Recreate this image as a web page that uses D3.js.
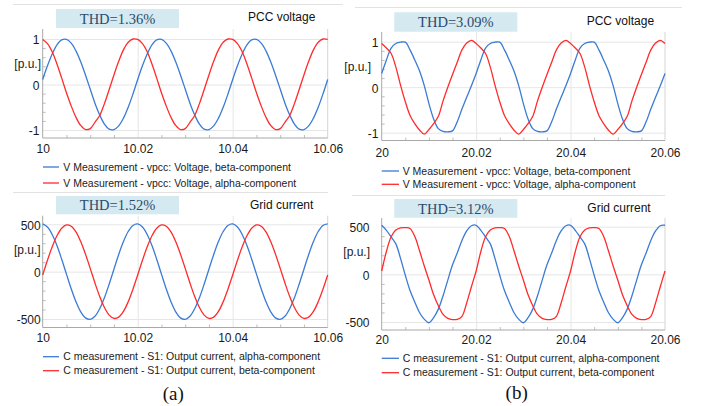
<!DOCTYPE html>
<html><head><meta charset="utf-8">
<script src="https://cdn.jsdelivr.net/npm/d3@7"></script>
<style>body{margin:0;background:#fff}svg{display:block}</style>
</head><body>
<svg id="c" width="709" height="406"></svg>
<script>
// ---------- data ----------
const sampleMs = [0,1,2,3,4,5,6,7,8,9,10,11,12,13,14,15,16,17,18,19,20,21,22,23,24,25,26,27,28,29,30,31,32,33,34,35,36,37,38,39,40,41,42,43,44,45,46,47,48,49,50,51,52,53,54,55,56,57,58,59,60];

const vA_beta = [0.11,0.41,0.67,0.87,0.98,0.99,0.91,0.74,0.50,0.21,-0.10,-0.41,-0.67,-0.87,-0.98,-0.99,-0.91,-0.74,-0.50,-0.21,
                 0.11,0.41,0.67,0.87,0.98,0.99,0.91,0.74,0.50,0.21,-0.10,-0.41,-0.67,-0.87,-0.98,-0.99,-0.91,-0.74,-0.50,-0.21,
                 0.11,0.41,0.67,0.87,0.98,0.99,0.91,0.74,0.50,0.21,-0.10,-0.41,-0.67,-0.87,-0.98,-0.99,-0.91,-0.74,-0.50,-0.21,0.11];
const vA_alpha = [0.99,0.90,0.72,0.45,0.14,-0.18,-0.47,-0.72,-0.90,-0.99,-0.97,-0.83,-0.68,-0.42,-0.11,0.21,0.51,0.76,0.93,1.00,
                  0.99,0.90,0.72,0.45,0.14,-0.18,-0.47,-0.72,-0.90,-0.99,-0.97,-0.83,-0.68,-0.42,-0.11,0.21,0.51,0.76,0.93,1.00,
                  0.99,0.90,0.72,0.45,0.14,-0.18,-0.47,-0.72,-0.90,-0.99,-0.97,-0.83,-0.68,-0.42,-0.11,0.21,0.51,0.76,0.93,1.00,0.99];
const vB_beta = [0.30,0.60,0.86,0.96,0.99,0.99,0.82,0.60,0.36,0.04,-0.36,-0.70,-0.91,-0.97,-0.98,-0.96,-0.76,-0.48,-0.22,0.03,
                 0.30,0.60,0.86,0.96,0.99,0.99,0.82,0.60,0.36,0.04,-0.36,-0.70,-0.91,-0.97,-0.98,-0.96,-0.76,-0.48,-0.22,0.03,
                 0.30,0.60,0.86,0.96,0.99,0.99,0.82,0.60,0.36,0.04,-0.36,-0.70,-0.91,-0.97,-0.98,-0.96,-0.76,-0.48,-0.22,0.03,0.30];
const vB_alpha = [0.96,0.86,0.74,0.44,0.04,-0.32,-0.62,-0.80,-0.94,-1.03,-0.93,-0.80,-0.64,-0.30,0.00,0.28,0.55,0.82,0.97,1.03,
                  0.96,0.86,0.74,0.44,0.04,-0.32,-0.62,-0.80,-0.94,-1.03,-0.93,-0.80,-0.64,-0.30,0.00,0.28,0.55,0.82,0.97,1.03,
                  0.96,0.86,0.74,0.44,0.04,-0.32,-0.62,-0.80,-0.94,-1.03,-0.93,-0.80,-0.64,-0.30,0.00,0.28,0.55,0.82,0.97,1.03,0.96];
const iA_alpha = [504,471,392,275,131,-26,-181,-318,-424,-488,-504,-471,-392,-275,-131,26,181,318,424,488,
                  504,471,392,275,131,-26,-181,-318,-424,-488,-504,-471,-392,-275,-131,26,181,318,424,488,
                  504,471,392,275,131,-26,-181,-318,-424,-488,-504,-471,-392,-275,-131,26,181,318,424,488,504];
const iA_beta = [-35,120,262,379,459,494,480,420,318,185,35,-120,-262,-379,-459,-494,-480,-420,-318,-185,
                 -35,120,262,379,459,494,480,420,318,185,35,-120,-262,-379,-459,-494,-480,-420,-318,-185,
                 -35,120,262,379,459,494,480,420,318,185,35,-120,-262,-379,-459,-494,-480,-420,-318,-185,-35];
const iB_alpha = [515,462,392,320,165,-10,-170,-290,-400,-470,-508,-455,-365,-225,-60,100,225,355,455,510,
                  515,462,392,320,165,-10,-170,-290,-400,-470,-508,-455,-365,-225,-60,100,225,355,455,510,
                  515,462,392,320,165,-10,-170,-290,-400,-470,-508,-455,-365,-225,-60,100,225,355,455,510,515];
const iB_beta = [35,240,395,465,488,490,482,400,250,90,-60,-215,-330,-420,-462,-475,-472,-440,-300,-130,
                 35,240,395,465,488,490,482,400,250,90,-60,-215,-330,-420,-462,-475,-472,-440,-300,-130,
                 35,240,395,465,488,490,482,400,250,90,-60,-215,-330,-420,-462,-475,-472,-440,-300,-130,35];

const voltTicks = [-1, 0, 1];
const voltTickLabels = ["-1", "0", "1"];
const voltMinor = [-0.8,-0.6,-0.4,-0.2,0.2,0.4,0.6,0.8];
const currTicks = [-500, 0, 500];
const currTickLabels = ["-500", "0", "500"];
const currMinor = [-400,-300,-200,-100,100,200,300,400];
const timeOffsets = [0, 0.02, 0.04, 0.06];
const timeMinorOffsets = [0.005,0.01,0.015,0.025,0.03,0.035,0.045,0.05,0.055];
const xTickLabelsA = ["10", "10.02", "10.04", "10.06"];
const xTickLabelsB = ["20", "20.02", "20.04", "20.06"];
const thdLabels = ["THD=1.36%", "THD=3.09%", "THD=1.52%", "THD=3.12%"];
const titles = ["PCC voltage", "PCC voltage", "Grid current", "Grid current"];
const legendVolt = ["V Measurement - vpcc: Voltage, beta-component", "V Measurement - vpcc: Voltage, alpha-component"];
const legendCurr = ["C measurement - S1: Output current, alpha-component", "C measurement - S1: Output current, beta-component"];
const captions = ["(a)", "(b)"];

// ---------- style ----------
const BLUE = "#3a7bd5", RED = "#ff2b2b";
const SANS = "'Liberation Sans', Arial, sans-serif";
const SERIF = "'Liberation Serif', 'Times New Roman', serif";

const svg = d3.select("#c");
svg.append("rect").attr("width",709).attr("height",406).attr("fill","#fff");

// separators
const seps = [[13,343,4.5],[13,328,192.5],[355,682,7.5],[352,665,195.5]];
seps.forEach(s => svg.append("line").attr("x1",s[0]).attr("x2",s[1]).attr("y1",s[2]).attr("y2",s[2])
  .attr("stroke","#e2e2e2").attr("stroke-width",1));

const panels = [
  {t0:10, x0:42.7, x1:327.7, yTop:29, yBot:138, yLo:130, yHi:39, dom:[-1,1], ticks:voltTicks, tickLabels:voltTickLabels, minor:voltMinor,
   xLabels:xTickLabelsA, yLabRight:39.5, xLabBase:153, pu:[41,63.3], box:[56,9,123,19], thd:thdLabels[0], title:titles[0], titleX:248, titleBase:21,
   leg:legendVolt, legX:[43,59,63.3], legY:[167,183], s1:vA_beta, s2:vA_alpha},
  {t0:20, x0:381.7, x1:665, yTop:32, yBot:140.5, yLo:132.7, yHi:41.7, dom:[-1,1], ticks:voltTicks, tickLabels:voltTickLabels, minor:voltMinor,
   xLabels:xTickLabelsB, yLabRight:378.5, xLabBase:156.7, pu:[371,66.7], box:[394.3,12.3,123,19.4], thd:thdLabels[1], title:titles[1], titleX:586.7, titleBase:25,
   leg:legendVolt, legX:[381.7,399,402.7], legY:[171,184.3], s1:vB_beta, s2:vB_alpha},
  {t0:10, x0:42.7, x1:327.7, yTop:215.7, yBot:327.5, yLo:319, yHi:224.3, dom:[-500,500], ticks:currTicks, tickLabels:currTickLabels, minor:currMinor,
   xLabels:xTickLabelsA, yLabRight:40.7, xLabBase:341.7, pu:[40.7,250], box:[56,196,123,18.3], thd:thdLabels[2], title:titles[2], titleX:250, titleBase:209,
   leg:legendCurr, legX:[43,59,63.3], legY:[356.7,370.7], s1:iA_alpha, s2:iA_beta},
  {t0:20, x0:381.7, x1:665, yTop:218, yBot:330, yLo:322, yHi:226.7, dom:[-500,500], ticks:currTicks, tickLabels:currTickLabels, minor:currMinor,
   xLabels:xTickLabelsB, yLabRight:369.5, xLabBase:344, pu:[370,251.7], box:[394.3,199,123,18.7], thd:thdLabels[3], title:titles[3], titleX:587.3, titleBase:211.7,
   leg:legendCurr, legX:[381.7,399,402.7], legY:[358.3,372.7], s1:iB_alpha, s2:iB_beta}
];

panels.forEach(p => {
  const g = svg.append("g");
  const x = d3.scaleLinear().domain([p.t0, p.t0 + 0.06]).range([p.x0, p.x1]);
  const y = d3.scaleLinear().domain(p.dom).range([p.yLo, p.yHi]);
  const W = p.x1 - p.x0, H = p.yBot - p.yTop;
  const xt = timeOffsets.map(o => p.t0 + o);

  // horizontal grid
  g.append("g").attr("transform",`translate(${p.x0},0)`)
    .call(d3.axisLeft(y).tickValues(p.ticks).tickSize(-W).tickFormat(""))
    .call(a => { a.select(".domain").remove(); a.selectAll("line").attr("stroke","#e6e6e6"); });
  // vertical grid
  g.append("g").attr("transform",`translate(0,${p.yBot})`)
    .call(d3.axisBottom(x).tickValues(xt.slice(1,-1)).tickSize(-H).tickFormat(""))
    .call(a => { a.select(".domain").remove(); a.selectAll("line").attr("stroke","#e6e6e6"); });
  // minor ticks
  g.append("g").attr("transform",`translate(${p.x0},0)`)
    .call(d3.axisLeft(y).tickValues(p.minor).tickSize(-3).tickFormat(""))
    .call(a => { a.select(".domain").remove(); a.selectAll("line").attr("stroke","#bdbdbd"); });
  g.append("g").attr("transform",`translate(0,${p.yBot})`)
    .call(d3.axisBottom(x).tickValues(timeMinorOffsets.map(o => p.t0 + o)).tickSize(-3).tickFormat(""))
    .call(a => { a.select(".domain").remove(); a.selectAll("line").attr("stroke","#bdbdbd"); });
  // frame
  g.append("line").attr("x1",p.x1).attr("x2",p.x1).attr("y1",p.yTop).attr("y2",p.yBot).attr("stroke","#d4d4d4");
  g.append("line").attr("x1",p.x0).attr("x2",p.x0).attr("y1",p.yTop).attr("y2",p.yBot).attr("stroke","#a8a8a8");
  g.append("line").attr("x1",p.x0).attr("x2",p.x1).attr("y1",p.yBot).attr("y2",p.yBot).attr("stroke","#a8a8a8");

  // y labels
  g.append("g").attr("transform",`translate(${p.x0},0)`)
    .call(d3.axisLeft(y).tickValues(p.ticks).tickSize(0).tickPadding(p.x0 - p.yLabRight).tickFormat((d,i) => p.tickLabels[i]))
    .call(a => { a.select(".domain").remove();
      a.selectAll("text").attr("font-family",SANS).attr("font-size",12).attr("fill","#1a1a1a").attr("dy","0.4em"); });
  // x labels
  g.append("g").attr("transform",`translate(0,${p.yBot})`)
    .call(d3.axisBottom(x).tickValues(xt).tickSize(0).tickFormat((d,i) => p.xLabels[i]))
    .call(a => { a.select(".domain").remove();
      a.selectAll("text").attr("font-family",SANS).attr("font-size",12).attr("fill","#1a1a1a")
        .attr("y", p.xLabBase - p.yBot).attr("dy", 0); });

  g.append("text").attr("x",p.pu[0]).attr("y",p.pu[1]).attr("dy","0.35em").attr("text-anchor","end")
    .attr("font-family",SANS).attr("font-size",12).attr("fill","#1a1a1a").text("[p.u.]");

  // series
  const line = d3.line().x((d,i) => x(p.t0 + sampleMs[i]/1000)).y(d => y(d)).curve(d3.curveCatmullRom.alpha(0.5));
  g.append("path").datum(p.s1).attr("d",line).attr("fill","none").attr("stroke",BLUE).attr("stroke-width",1.3);
  g.append("path").datum(p.s2).attr("d",line).attr("fill","none").attr("stroke",RED).attr("stroke-width",1.3);

  // THD box
  g.append("rect").attr("x",p.box[0]).attr("y",p.box[1]).attr("width",p.box[2]).attr("height",p.box[3]).attr("fill","#d5e9f0");
  g.append("text").attr("x",p.box[0]+p.box[2]/2).attr("y",p.box[1]+p.box[3]/2).attr("dy","0.36em").attr("text-anchor","middle")
    .attr("font-family",SERIF).attr("font-size",14.5).attr("fill","#2c4a6e").text(p.thd);
  // title
  g.append("text").attr("x",p.titleX).attr("y",p.titleBase).attr("font-family",SANS).attr("font-size",12).attr("fill","#111").text(p.title);
  // legend
  [BLUE, RED].forEach((c,i) => {
    g.append("line").attr("x1",p.legX[0]).attr("x2",p.legX[1]).attr("y1",p.legY[i]).attr("y2",p.legY[i]).attr("stroke",c).attr("stroke-width",1.3);
    g.append("text").attr("x",p.legX[2]).attr("y",p.legY[i]).attr("dy","0.35em").attr("font-family",SANS).attr("font-size",10.5)
      .attr("fill","#222").text(p.leg[i]);
  });
});

// captions
svg.append("text").attr("x",173.3).attr("y",399.5).attr("text-anchor","middle").attr("font-family",SERIF).attr("font-size",19).attr("fill","#111").text(captions[0]);
svg.append("text").attr("x",516.7).attr("y",398.5).attr("text-anchor","middle").attr("font-family",SERIF).attr("font-size",19).attr("fill","#111").text(captions[1]);
</script>
</body></html>
